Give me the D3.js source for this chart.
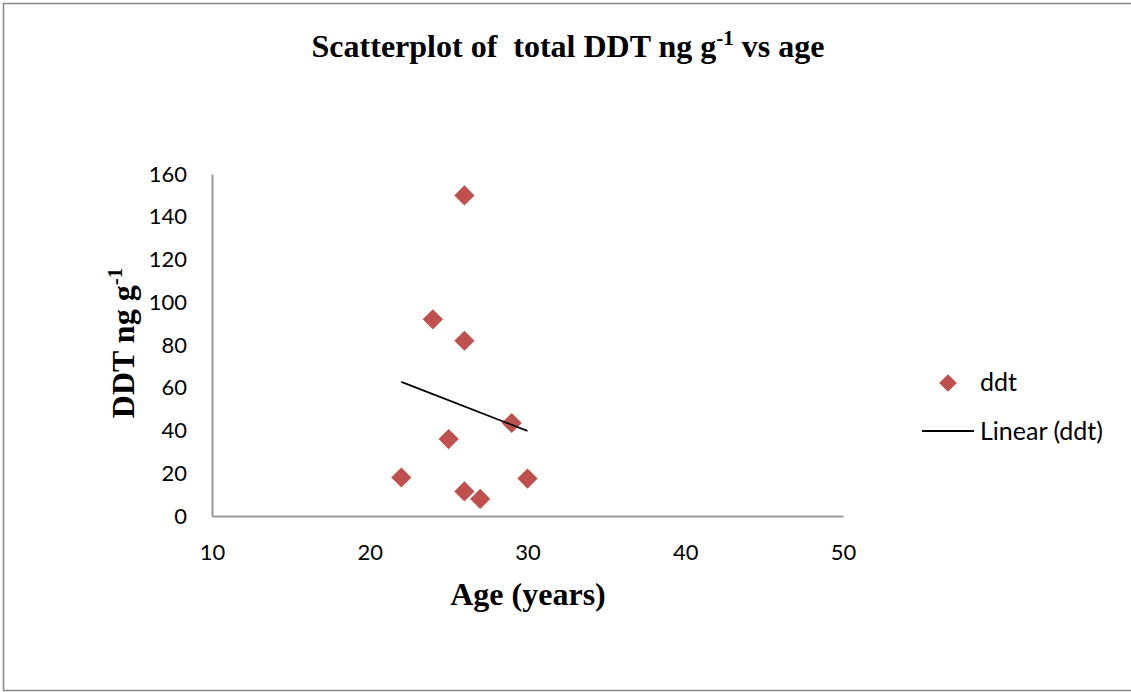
<!DOCTYPE html>
<html>
<head>
<meta charset="utf-8">
<script src="https://cdn.jsdelivr.net/npm/d3@7"></script>
<style>
  html, body { margin: 0; padding: 0; background: #fff; }
  svg { display: block; }
</style>
</head>
<body>
<div id="chart"></div>
<script>
// Age (years) and total DDT (ng g-1) for each subject
const ages = [26, 24, 26, 29, 25, 22, 30, 26, 27];
const ddt  = [150, 92, 82, 43.5, 36, 18, 17.5, 11.5, 8];
const xTicks = [10, 20, 30, 40, 50];
const yTicks = [0, 20, 40, 60, 80, 100, 120, 140, 160];

const W = 1131, H = 692;
const svg = d3.select("#chart").append("svg").attr("width", W).attr("height", H);

// outer chart frame
svg.append("rect")
  .attr("x", 3.5).attr("y", 3.5).attr("width", W).attr("height", H - 5)
  .attr("fill", "#fff").attr("stroke", "#868686").attr("stroke-width", 1.5);

const plot = { left: 212, right: 843, top: 174, bottom: 516 };
const x = d3.scaleLinear().domain([10, 50]).range([plot.left, plot.right]);
const y = d3.scaleLinear().domain([0, 160]).range([plot.bottom, plot.top]);

const tickFont = "Lato, 'Open Sans', sans-serif";
const serif = "'Liberation Serif', 'Times New Roman', serif";

// axes
const xAxis = svg.append("g").attr("transform", `translate(0,${plot.bottom})`)
  .call(d3.axisBottom(x).tickValues(xTicks).tickSize(0).tickPadding(28));
const yAxis = svg.append("g").attr("transform", `translate(${plot.left},0)`)
  .call(d3.axisLeft(y).tickValues(yTicks).tickSize(0).tickPadding(25));
[xAxis, yAxis].forEach(g => {
  g.select(".domain").attr("stroke", "#999").attr("stroke-width", 2);
  g.selectAll("text").attr("font-family", tickFont).attr("font-size", 22).attr("fill", "#000");
});

// least-squares trendline over the observed age range
const n = ages.length;
const mx = d3.mean(ages), my = d3.mean(ddt);
let sxy = 0, sxx = 0;
for (let i = 0; i < n; i++) {
  sxy += (ages[i] - mx) * (ddt[i] - my);
  sxx += (ages[i] - mx) ** 2;
}
const slope = sxy / sxx, intercept = my - slope * mx;
const [x0, x1] = d3.extent(ages);

// points
const diamond = d3.symbol().type(d3.symbolDiamond2).size(260);
svg.append("g").selectAll("path")
  .data(ages.map((a, i) => [a, ddt[i]]))
  .join("path")
  .attr("d", diamond)
  .attr("transform", d => `translate(${x(d[0])},${y(d[1])})`)
  .attr("fill", "#C0504D");

svg.append("line")
  .attr("x1", x(x0)).attr("y1", y(intercept + slope * x0))
  .attr("x2", x(x1)).attr("y2", y(intercept + slope * x1))
  .attr("stroke", "#000").attr("stroke-width", 1.8);

// title
const title = svg.append("text")
  .attr("x", 568).attr("y", 57).attr("text-anchor", "middle")
  .attr("font-family", serif).attr("font-weight", "bold").attr("font-size", 32)
  .attr("xml:space", "preserve");
title.append("tspan").text("Scatterplot of  total DDT ng g");
title.append("tspan").attr("dy", -12).attr("font-size", 21).text("-1");
title.append("tspan").attr("dy", 12).text(" vs age");

// axis titles
svg.append("text")
  .attr("x", 528).attr("y", 605).attr("text-anchor", "middle")
  .attr("font-family", serif).attr("font-weight", "bold").attr("font-size", 32)
  .text("Age (years)");

const yt = svg.append("text")
  .attr("transform", "translate(134,343) rotate(-90)").attr("text-anchor", "middle")
  .attr("font-family", serif).attr("font-weight", "bold").attr("font-size", 32);
yt.append("tspan").text("DDT ng g");
yt.append("tspan").attr("dy", -12).attr("font-size", 21).text("-1");

// legend
const legend = svg.append("g");
legend.append("path").attr("d", d3.symbol().type(d3.symbolDiamond2).size(200))
  .attr("transform", "translate(948,383)").attr("fill", "#C0504D");
legend.append("text").attr("x", 980).attr("y", 391)
  .attr("font-family", tickFont).attr("font-size", 25).text("ddt");
legend.append("line").attr("x1", 922).attr("x2", 974).attr("y1", 431).attr("y2", 431)
  .attr("stroke", "#000").attr("stroke-width", 1.8);
legend.append("text").attr("x", 980).attr("y", 440)
  .attr("font-family", tickFont).attr("font-size", 25).text("Linear (ddt)");
</script>
</body>
</html>
